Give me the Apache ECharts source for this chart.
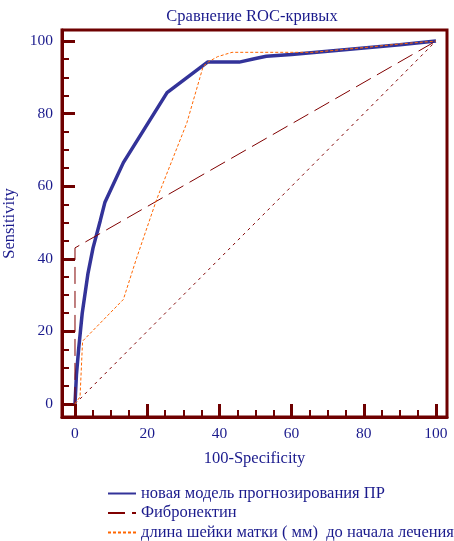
<!DOCTYPE html>
<html>
<head>
<meta charset="utf-8">
<script src="https://cdn.jsdelivr.net/npm/echarts@6/dist/echarts.min.js"></script>
<style>
  html, body { margin: 0; padding: 0; background: #fff; }
  #rocChart { width: 454px; height: 541px; }
</style>
</head>
<body>
<div id="rocChart"></div>
<script>
"use strict";
// данные ROC-кривых
var newModelX = [0, 0.4, 1, 2, 3.6, 5, 7, 8.3, 13.4, 25.5, 36.7, 45.5, 50, 53, 60, 70, 80, 90, 100];
var newModelY = [0, 8, 15, 25, 36, 43, 50.5, 55.6, 66.5, 85.8, 94.2, 94.2, 95.2, 95.8, 96.3, 97.2, 98.1, 99, 100];
var fibroX = [0, 0, 100];
var fibroY = [0, 43, 100];
var cervixX = [0, 1.4, 2.1, 13.4, 17, 22.6, 31, 35.5, 37, 39.5, 43.5, 66, 80, 90, 100];
var cervixY = [0, 2, 17.3, 28.8, 40, 56.3, 77.5, 93, 94.3, 95.7, 96.9, 96.9, 98.2, 99.2, 100];
var diagX = [0, 100];
var diagY = [0, 100];
// подписи делений
var majorTicks = [0, 20, 40, 60, 80, 100];
var minorTicks = [5, 10, 15, 25, 30, 35, 45, 50, 55, 65, 70, 75, 85, 90, 95];
var seriesNames = ['новая модель прогнозирования ПР', 'Фибронектин', 'длина шейки матки ( мм)  до начала лечения'];

var toPairs = function(xs, ys){
  var out = [];
  for (var i = 0; i < xs.length; i++) {
    out.push([xs[i], ys[i]]);
  }
  return out;
};

var frameColor = '#6e0000';
var textColor = '#1a1a8c';
var font = 'Liberation Serif';
var axMin = -3.6, axMax = 103.05;

var makeAxis = function(isX, main){
  var ax = {
    type: 'value',
    gridIndex: 0,
    min: axMin,
    max: axMax,
    splitLine: {show: false},
    axisLine: {show: main, onZero: false, lineStyle: {color: frameColor, width: 3}},
    axisTick: {
      show: true,
      inside: true,
      length: main ? 13 : 7,
      customValues: main ? majorTicks : minorTicks,
      lineStyle: {color: frameColor, width: main ? 3 : 2}
    },
    axisLabel: {
      show: main,
      customValues: majorTicks,
      color: textColor,
      fontFamily: font,
      fontSize: 15.5,
      margin: 9
    }
  };
  if (main) {
    ax.name = isX ? '100-Specificity' : 'Sensitivity';
    ax.nameLocation = 'middle';
    ax.nameGap = isX ? 33 : 44;
    ax.nameTextStyle = {color: textColor, fontFamily: font, fontSize: 16.5};
  }
  ax.position = isX ? 'bottom' : 'left';
  return ax;
};

// легенда: по одной строке на серию
var makeLegend = function(idx){
  return {
    orient: 'vertical',
    left: 102,
    top: 480 + idx * 19.5,
    itemWidth: 28,
    itemHeight: 14,
    itemTextGap: 6,
    data: [seriesNames[idx]],
    itemStyle: {opacity: 0},
    textStyle: {color: textColor, fontFamily: font, fontSize: 16.5}
  };
};

var myChart = echarts.init(document.getElementById('rocChart'));
var option = {
  animation: false,
  title: {
    text: 'Сравнение ROC-кривых',
    left: 247,
    textAlign: 'center',
    top: 3,
    textStyle: {color: textColor, fontFamily: font, fontSize: 16.5, fontWeight: 'normal'}
  },
  grid: {
    left: 62,
    right: 7,
    top: 30,
    bottom: 124,
    outerBoundsMode: 'none',
    containLabel: false,
    show: true,
    borderColor: frameColor,
    borderWidth: 3,
    backgroundColor: 'transparent'
  },
  xAxis: [makeAxis(true, true), makeAxis(true, false)],
  yAxis: [makeAxis(false, true), makeAxis(false, false)],
  legend: [makeLegend(0), makeLegend(1), makeLegend(2)],
  series: [
    {
      type: 'line',
      data: toPairs(diagX, diagY),
      symbol: 'none',
      silent: true,
      lineStyle: {color: '#800000', width: 1, type: [3, 4]}
    },
    {
      name: seriesNames[0],
      type: 'line',
      data: toPairs(newModelX, newModelY),
      symbol: 'none',
      itemStyle: {color: '#333399'},
      lineStyle: {color: '#333399', width: 3.5}
    },
    {
      name: seriesNames[1],
      type: 'line',
      data: toPairs(fibroX, fibroY),
      symbol: 'none',
      itemStyle: {color: '#800000'},
      lineStyle: {color: '#800000', width: 1, type: [17, 7]}
    },
    {
      name: seriesNames[2],
      type: 'line',
      data: toPairs(cervixX, cervixY),
      symbol: 'none',
      itemStyle: {color: '#ff6600'},
      lineStyle: {color: '#ff6600', width: 1, type: [3, 2]}
    }
  ]
};
myChart.setOption(option);
</script>
</body>
</html>
